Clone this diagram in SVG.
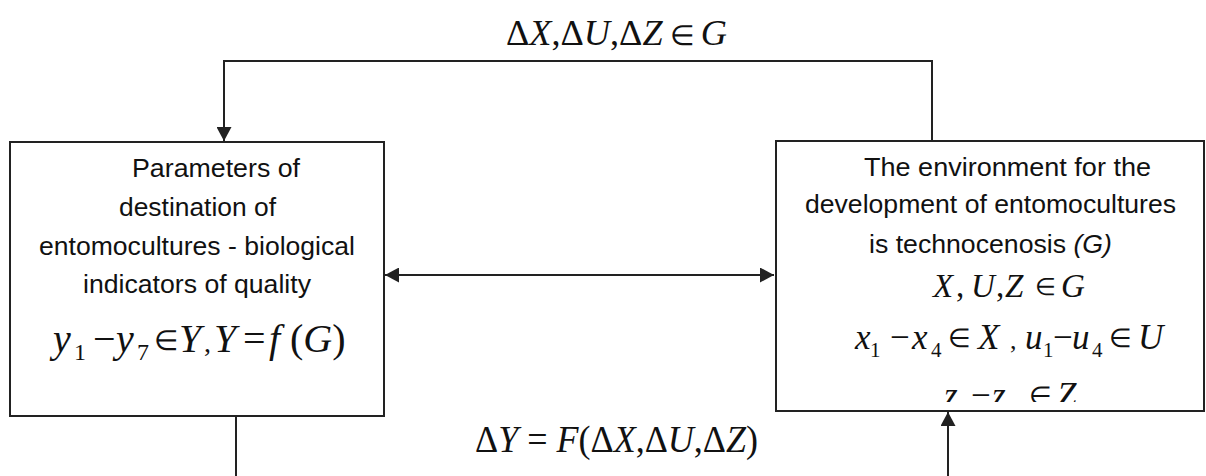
<svg xmlns="http://www.w3.org/2000/svg" width="1206" height="476" viewBox="0 0 1206 476">
<style>
.box{fill:#fff;stroke:#222;stroke-width:2}
.ln{fill:none;stroke:#222;stroke-width:2}
.t{font-family:"Liberation Sans",Arial,sans-serif;font-size:25px;fill:#111}
.m{font-family:"Liberation Serif","Times New Roman",serif;fill:#111}
.i{font-style:italic}
</style>
<defs>
<marker id="ah" viewBox="0 0 14 15" refX="14" refY="7.5" markerWidth="14" markerHeight="15" markerUnits="userSpaceOnUse" orient="auto-start-reverse">
<path d="M0,0 L14,7.5 L0,15 Z" fill="#222"/>
</marker>
<clipPath id="rc"><rect x="776" y="142" width="428" height="260"/></clipPath>
</defs>
<g id="connectors">
<polyline class="ln" points="932,141 932,61 224,61 224,141" marker-end="url(#ah)"/>
<line class="ln" x1="385" y1="275" x2="774" y2="275" marker-start="url(#ah)" marker-end="url(#ah)"/>
<line class="ln" x1="236" y1="417" x2="236" y2="476"/>
<line class="ln" x1="948" y1="476" x2="948" y2="412" marker-end="url(#ah)"/>
</g>
<g id="top-label">
<text class="m" font-size="36" x="506" y="45" textLength="221" lengthAdjust="spacingAndGlyphs">Δ<tspan class="i">X</tspan>,Δ<tspan class="i">U</tspan>,Δ<tspan class="i">Z</tspan><tspan font-size="28"> ∈ </tspan><tspan class="i">G</tspan></text>
</g>
<g id="bottom-label">
<text class="m" font-size="37" x="475" y="452" textLength="283" lengthAdjust="spacingAndGlyphs">Δ<tspan class="i">Y</tspan> = <tspan class="i">F</tspan>(Δ<tspan class="i">X</tspan>,Δ<tspan class="i">U</tspan>,Δ<tspan class="i">Z</tspan>)</text>
</g>
<g id="node-left">
<rect class="box" x="10" y="142" width="374" height="274"/>
<text class="t" x="132" y="177" textLength="168" lengthAdjust="spacingAndGlyphs">Parameters of</text>
<text class="t" x="119" y="216" textLength="157" lengthAdjust="spacingAndGlyphs">destination of</text>
<text class="t" x="39" y="255" textLength="316" lengthAdjust="spacingAndGlyphs">entomocultures - biological</text>
<text class="t" x="83" y="293" textLength="228" lengthAdjust="spacingAndGlyphs">indicators of quality</text>
<g class="m" font-size="40">
<text x="53" y="352" class="m i">y</text>
<text x="74" y="360" class="m" font-size="24">1</text>
<text x="93" y="352" class="m">−</text>
<text x="116" y="352" class="m i">y</text>
<text x="137" y="360" class="m" font-size="24">7</text>
<text x="154" y="350" class="m" font-size="28">∈</text>
<text x="179" y="352" class="m i">Y</text>
<text x="204" y="352" class="m" font-size="28">,</text>
<text x="214" y="352" class="m i">Y</text>
<text x="243" y="352" class="m">=</text>
<text x="269" y="352" class="m i">f</text>
<text x="290" y="352" class="m">(<tspan class="i">G</tspan>)</text>
</g>
</g>
<g id="node-right">
<rect class="box" x="776" y="141" width="428" height="270"/>
<text class="t" x="864" y="176" textLength="287" lengthAdjust="spacingAndGlyphs">The environment for the</text>
<text class="t" x="805" y="213" textLength="371" lengthAdjust="spacingAndGlyphs">development of entomocultures</text>
<text class="t" x="869" y="253" textLength="243" lengthAdjust="spacingAndGlyphs">is technocenosis <tspan class="i">(G)</tspan></text>
<g class="m" font-size="33">
<text x="933" y="297" class="m i">X</text>
<text x="956" y="297" class="m">,</text>
<text x="971" y="297" class="m i">U</text>
<text x="996" y="297" class="m">,</text>
<text x="1005" y="297" class="m i">Z</text>
<text x="1035" y="295" class="m" font-size="24">∈</text>
<text x="1061" y="297" class="m i">G</text>
</g>
<g class="m" font-size="35">
<text x="855" y="349" class="m i">x</text>
<text x="870" y="357" class="m" font-size="21">1</text>
<text x="890" y="349" class="m">−</text>
<text x="912" y="349" class="m i">x</text>
<text x="931" y="357" class="m" font-size="21">4</text>
<text x="948" y="347" class="m" font-size="26">∈</text>
<text x="978" y="349" class="m i">X</text>
<text x="1010" y="349" class="m" font-size="26">,</text>
<text x="1025" y="349" class="m i">u</text>
<text x="1043" y="357" class="m" font-size="21">1</text>
<text x="1053" y="349" class="m">−</text>
<text x="1072" y="349" class="m i">u</text>
<text x="1092" y="357" class="m" font-size="21">4</text>
<text x="1109" y="347" class="m" font-size="26">∈</text>
<text x="1138" y="349" class="m i">U</text>
</g>
<g class="m" font-size="35" clip-path="url(#rc)">
<text x="944" y="407" class="m i">z</text>
<text x="971" y="407" class="m">−</text>
<text x="992" y="407" class="m i">z</text>
<text x="1029" y="405" class="m" font-size="26">∈</text>
<text x="1057" y="407" class="m i">Z</text>
</g>
</g>
</svg>
